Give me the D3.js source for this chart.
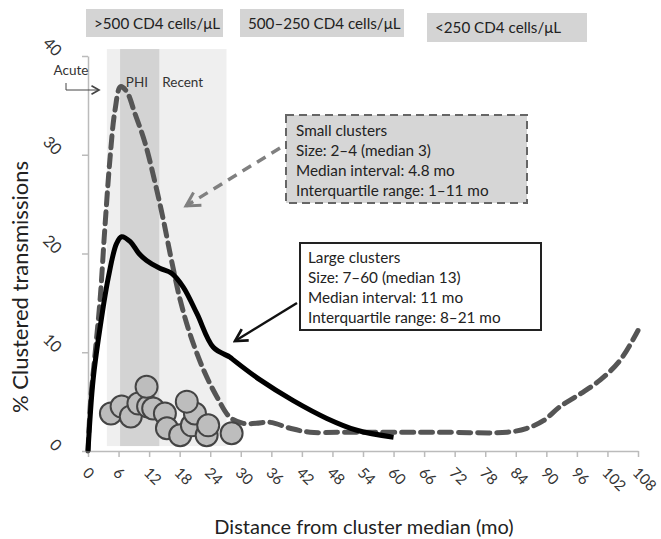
<!DOCTYPE html>
<html>
<head>
<meta charset="utf-8">
<script src="https://cdn.jsdelivr.net/npm/d3@7"></script>
<style>
  body { margin: 0; background: #fff; }
  text { font-family: Lato, "Open Sans", sans-serif; }
</style>
</head>
<body>
<div id="chart"></div>
<script>
// small clusters (dashed curve)
var smallMonths = [0, 0.5, 1.4, 2.4, 3.3, 4.3, 5.3, 6.4, 7.6, 9.2, 11.2, 13.2, 14.8, 16.4, 18.1, 20, 22.7, 25.3, 27.9, 30.5, 33, 35.8, 39.7, 43.6, 50, 60, 70, 82.3, 86.2, 89.5, 92.7, 96.7, 100.6, 104.5, 108];
var smallPct    = [0, 5, 9.9, 15.5, 22.5, 29.5, 34.5, 36.9, 36.4, 34.2, 31.2, 27.1, 23.4, 19.3, 15.3, 11.9, 8.2, 5.5, 3.4, 2.8, 2.8, 2.9, 2.3, 1.9, 1.9, 1.9, 1.9, 1.9, 2.3, 3.1, 4.5, 5.8, 7.2, 9.2, 12.2];

// large clusters (solid curve)
var largeMonths = [0, 1, 2.4, 4, 5.6, 6.6, 8.3, 10, 11.5, 14.1, 16.4, 18.7, 21.4, 24.6, 27.9, 28.6, 33.8, 40.3, 46.9, 52.8, 60];
var largePct    = [0, 7.2, 12.6, 17.6, 21, 21.7, 21.2, 20, 19.3, 18.5, 18, 16.6, 13.9, 10.5, 9.5, 9.2, 7.2, 5.1, 3.3, 2.1, 1.4];

// circles
var dotMonths = [4.5, 6.6, 8.4, 9.9, 11.8, 12.8, 11.5, 15.1, 15.5, 18.1, 20.4, 21.0, 19.4, 23.3, 23.6, 28.2];
var dotPct    = [3.8, 4.5, 3.5, 4.8, 4.5, 4.3, 6.5, 3.8, 2.3, 1.6, 2.6, 3.8, 5.0, 1.6, 2.6, 1.8];

// infection phases (months)
var phaseNames = ["Acute/Recent", "PHI"];
var phaseStart = [3.7, 6.3];
var phaseEnd   = [27.2, 14];

var xTickLabels = [0, 6, 12, 18, 24, 30, 36, 42, 48, 54, 60, 66, 72, 78, 84, 90, 96, 102, 108];
var yTickLabels = [0, 10, 20, 30, 40];
var cd4Labels = [">500 CD4 cells/\u03bcL", "500\u2013250 CD4 cells/\u03bcL", "<250 CD4 cells/\u03bcL"];
var smallText = ["Small clusters", "Size: 2\u20134 (median 3)", "Median interval: 4.8 mo", "Interquartile range: 1\u201311 mo"];
var largeText = ["Large clusters", "Size: 7\u201360 (median 13)", "Median interval: 11 mo", "Interquartile range: 8\u201321 mo"];

var W = 661, H = 539;
var margin = {top: 56, right: 23, bottom: 88, left: 88},
    width = W - margin.left - margin.right,
    height = H - margin.top - margin.bottom;

var svg = d3.select("#chart").append("svg")
    .attr("width", W)
    .attr("height", H);

var defs = svg.append("defs");
function marker(id, color, size) {
  defs.append("marker")
      .attr("id", id)
      .attr("viewBox", "-10 -6 12 12")
      .attr("refX", 0).attr("refY", 0)
      .attr("markerUnits", "userSpaceOnUse")
      .attr("markerWidth", size).attr("markerHeight", size)
      .attr("orient", "auto")
    .append("path")
      .attr("d", "M-9,-5 L0,0 L-9,5")
      .attr("fill", "none")
      .attr("stroke", color)
      .attr("stroke-width", 2);
}
marker("arrBlack", "#111", 16);
marker("arrGray", "#808080", 18);
marker("arrThin", "#444", 10);

var g = svg.append("g")
    .attr("transform", "translate(" + margin.left + "," + margin.top + ")");

var x = d3.scaleLinear().domain([0, 108]).range([0, width]);
var y = d3.scaleLinear().domain([0, 40]).range([height, 0]);

// phase bands
g.selectAll("rect.band")
  .data(phaseNames)
  .enter().append("rect")
    .attr("class", "band")
    .attr("x", function(d, i) { return x(phaseStart[i]); })
    .attr("width", function(d, i) { return x(phaseEnd[i]) - x(phaseStart[i]); })
    .attr("y", y(40.7))
    .attr("height", y(0.5) - y(40.7))
    .attr("fill", function(d, i) { return i == 0 ? "#efefef" : "#d3d3d3"; });

g.append("text").attr("x", x(9.6)).attr("y", y(37.3) + 4)
    .attr("text-anchor", "middle").attr("font-size", 13.5).attr("fill", "#333").text("PHI");
g.append("text").attr("x", x(18.6)).attr("y", y(37.3) + 4)
    .attr("text-anchor", "middle").attr("font-size", 13.5).attr("fill", "#333").text("Recent");

// X axis
var xAxis = g.append("g")
    .attr("transform", "translate(0," + height + ")")
    .call(d3.axisBottom(x).tickValues(xTickLabels).tickSize(6).tickSizeOuter(0).tickFormat(""));
xAxis.select(".domain").attr("stroke", "#bbb").attr("stroke-width", 1.5);
xAxis.selectAll(".tick line").attr("stroke", "#bbb").attr("stroke-width", 1.5);
xAxis.selectAll(".tick").append("text")
    .attr("transform", "translate(-4,20) rotate(45)")
    .attr("text-anchor", "start")
    .attr("dominant-baseline", "middle")
    .attr("fill", "#333")
    .attr("font-size", 15)
    .text(function(d) { return d; });

// Y axis
var yAxis = g.append("g")
    .call(d3.axisLeft(y).tickValues(yTickLabels).tickSize(6).tickSizeOuter(0).tickFormat(""));
yAxis.select(".domain").attr("stroke", "#bbb").attr("stroke-width", 1.5);
yAxis.selectAll(".tick line").attr("stroke", "#bbb").attr("stroke-width", 1.5);
yAxis.selectAll(".tick").append("text")
    .attr("transform", "translate(-30,-2) rotate(45)")
    .attr("text-anchor", "end")
    .attr("dominant-baseline", "middle")
    .attr("fill", "#333")
    .attr("font-size", 16)
    .text(function(d) { return d; });

// curves
var line = d3.line()
    .x(function(d) { return x(d[0]); })
    .y(function(d) { return y(d[1]); })
    .curve(d3.curveCatmullRom.alpha(0.5));

g.append("path")
    .datum(smallMonths.map(function(m, i) { return [m, smallPct[i]]; }))
    .attr("d", line)
    .attr("fill", "none")
    .attr("stroke", "#555")
    .attr("stroke-width", 5)
    .attr("stroke-dasharray", "12,7")
    .attr("stroke-linecap", "round");

g.append("path")
    .datum(largeMonths.map(function(m, i) { return [m, largePct[i]]; }))
    .attr("d", line)
    .attr("fill", "none")
    .attr("stroke", "#000")
    .attr("stroke-width", 5)
    .attr("stroke-linejoin", "round");

// circles
g.selectAll("circle.dot")
  .data(dotMonths)
  .enter().append("circle")
    .attr("class", "dot")
    .attr("cx", function(d) { return x(d); })
    .attr("cy", function(d, i) { return y(dotPct[i]); })
    .attr("r", 11)
    .attr("fill", "#bdbdbd")
    .attr("stroke", "#444")
    .attr("stroke-width", 2);

// Acute label + arrow
svg.append("text").attr("x", 71).attr("y", 75).attr("text-anchor", "middle")
    .attr("font-size", 13.5).attr("fill", "#333").text("Acute");
svg.append("path").attr("d", "M66,83 L66,90 L99,90")
    .attr("fill", "none").attr("stroke", "#444").attr("stroke-width", 1)
    .attr("marker-end", "url(#arrThin)");

// CD4 boxes
var cd4Pos = [[86, 9, 137, 28], [240, 9, 164, 28], [427, 13, 160, 29]];
var cd4 = svg.selectAll("g.cd4").data(cd4Labels).enter().append("g").attr("class", "cd4");
cd4.append("rect")
    .attr("x", function(d, i) { return cd4Pos[i][0]; })
    .attr("y", function(d, i) { return cd4Pos[i][1]; })
    .attr("width", function(d, i) { return cd4Pos[i][2]; })
    .attr("height", function(d, i) { return cd4Pos[i][3]; })
    .attr("fill", "#d4d4d4");
cd4.append("text")
    .attr("x", function(d, i) { return cd4Pos[i][0] + 8; })
    .attr("y", function(d, i) { return cd4Pos[i][1] + 20; })
    .attr("font-size", 15.2)
    .attr("fill", "#222")
    .text(function(d) { return d; });

// small clusters annotation
svg.append("rect").attr("x", 286).attr("y", 115).attr("width", 241).attr("height", 88)
    .attr("fill", "#d6d6d6").attr("stroke", "#666").attr("stroke-width", 2)
    .attr("stroke-dasharray", "8,5");
svg.selectAll("text.small").data(smallText).enter().append("text")
    .attr("class", "small")
    .attr("x", 296).attr("y", function(d, i) { return 136 + i * 20; })
    .attr("font-size", 15.3).attr("fill", "#222")
    .text(function(d) { return d; });
svg.append("line").attr("x1", 280).attr("y1", 148).attr("x2", 186).attr("y2", 206)
    .attr("stroke", "#808080").attr("stroke-width", 3.5).attr("stroke-dasharray", "10,7")
    .attr("marker-end", "url(#arrGray)");

// large clusters annotation
svg.append("rect").attr("x", 300).attr("y", 243).attr("width", 241).attr("height", 87)
    .attr("fill", "#fff").attr("stroke", "#222").attr("stroke-width", 2);
svg.selectAll("text.large").data(largeText).enter().append("text")
    .attr("class", "large")
    .attr("x", 308).attr("y", function(d, i) { return 263 + i * 20; })
    .attr("font-size", 15.3).attr("fill", "#222")
    .text(function(d) { return d; });
svg.append("line").attr("x1", 297).attr("y1", 303).attr("x2", 235).attr("y2", 341)
    .attr("stroke", "#111").attr("stroke-width", 2.5)
    .attr("marker-end", "url(#arrBlack)");

// axis titles
svg.append("text").attr("x", 364).attr("y", 534).attr("text-anchor", "middle")
    .attr("font-size", 20).attr("fill", "#222").text("Distance from cluster median (mo)");
svg.append("text").attr("transform", "translate(28,287) rotate(-90)").attr("text-anchor", "middle")
    .attr("font-size", 22).attr("fill", "#222").text("% Clustered transmissions");
</script>
</body>
</html>
